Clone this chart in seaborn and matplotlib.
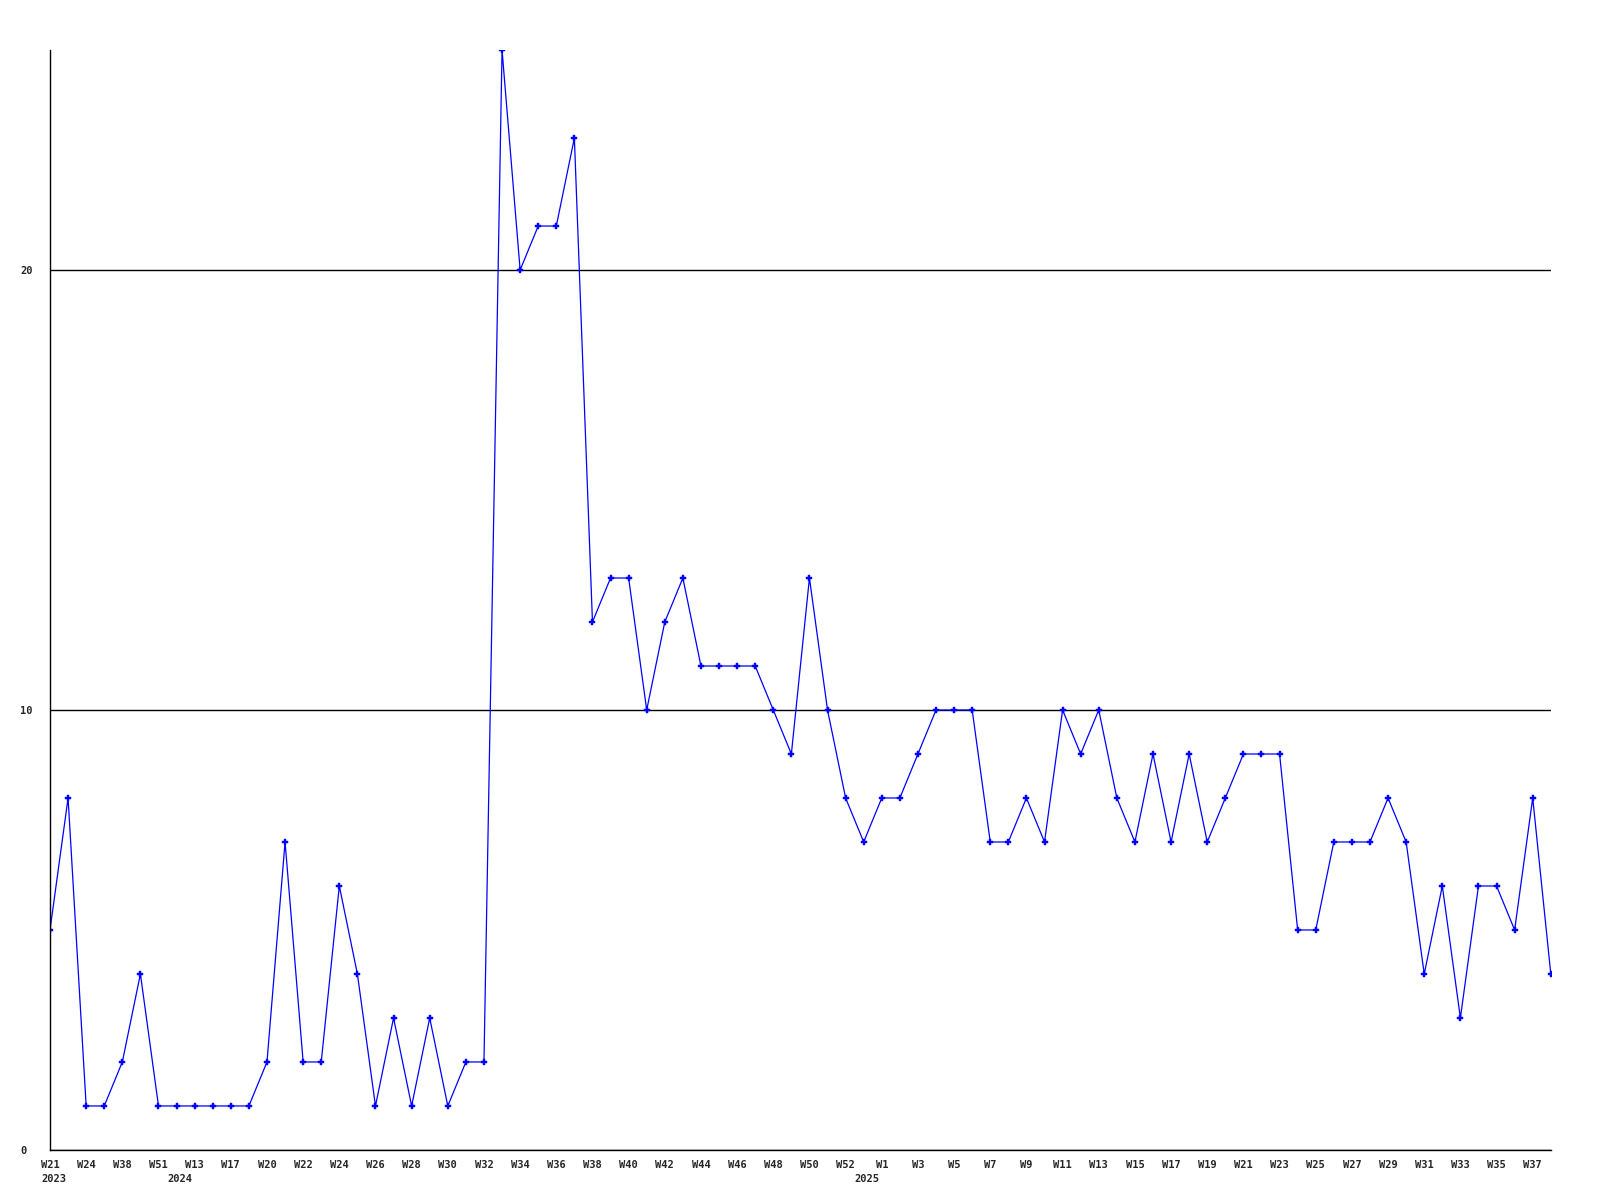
import pandas as pd
import seaborn as sns
import matplotlib.pyplot as plt
import matplotlib.transforms as mtransforms

# weekly counts, one point per week
weeks = (["W21", "W22", "W24", "W30", "W38", "W45", "W51", "W52",
          "W13", "W15", "W17", "W19"]
         + ["W%d" % w for w in range(20, 54)]
         + ["W%d" % w for w in range(1, 39)])
years = ["2023"] * 8 + ["2024"] * 38 + ["2025"] * 38
counts = [5, 8, 1, 1, 2, 4, 1, 1, 1, 1, 1, 1, 2, 7, 2, 2, 6, 4, 1, 3, 1, 3, 1, 2, 2,
          25, 20, 21, 21, 23, 12, 13, 13, 10, 12, 13, 11, 11, 11, 11,
          10, 9, 13, 10, 8, 7, 8, 8, 9, 10, 10, 10, 7, 7, 8, 7,
          10, 9, 10, 8, 7, 9, 7, 9, 7, 8, 9, 9, 9, 5, 5,
          7, 7, 7, 8, 7, 4, 6, 3, 6, 6, 5, 8, 4]
y_ticks = [0, 10, 20]

df = pd.DataFrame({"idx": range(len(counts)), "week": weeks,
                   "year": years, "count": counts})

sns.set_style("white")
plt.rcParams["font.family"] = ["DejaVu Sans Mono", "DejaVu Sans"]

fig = plt.figure(figsize=(16, 12), dpi=100)
ax = fig.add_axes([0.03125, 0.0417, 0.938, 0.9166])

sns.lineplot(
    data=df,
    x="idx",
    y="count",
    color="#0000ff",
    linewidth=0.9,
    marker="P",
    markersize=5,
    markeredgewidth=0.3,
    markeredgecolor="#0000ff",
    ax=ax,
)

# week labels on every second point
ticks = list(range(0, len(weeks), 2))
ax.set_xlim(0, len(counts) - 1)
ax.set_ylim(0, 25)
ax.set_xticks(ticks)
ax.set_xticklabels([weeks[i] for i in ticks], fontsize=7.5,
                   fontweight="bold", va="top")
ax.set_yticks(y_ticks)
ax.set_yticklabels([str(v) for v in y_ticks], fontsize=7.5,
                   fontweight="bold", ha="left")

# year under the first labelled week of each year
trans = mtransforms.blended_transform_factory(ax.transData, ax.transAxes)
seen = set()
for i in ticks:
    if years[i] in seen:
        continue
    seen.add(years[i])
    shift = 0.2 if i == 0 else -0.8
    ax.text(i + shift, -0.0215, years[i], transform=trans, ha="center",
            va="top", fontsize=7.5, fontweight="bold")

ax.tick_params(axis="x", length=0, pad=7)
ax.tick_params(axis="y", length=0, pad=21.6)
ax.yaxis.grid(True, color="black", linewidth=1)
ax.set_axisbelow(True)
ax.set_xlabel("")
ax.set_ylabel("")

for side in ["top", "right"]:
    ax.spines[side].set_visible(False)
for side in ["left", "bottom"]:
    ax.spines[side].set_color("black")
    ax.spines[side].set_linewidth(1)

plt.savefig("out.png", dpi=100)
